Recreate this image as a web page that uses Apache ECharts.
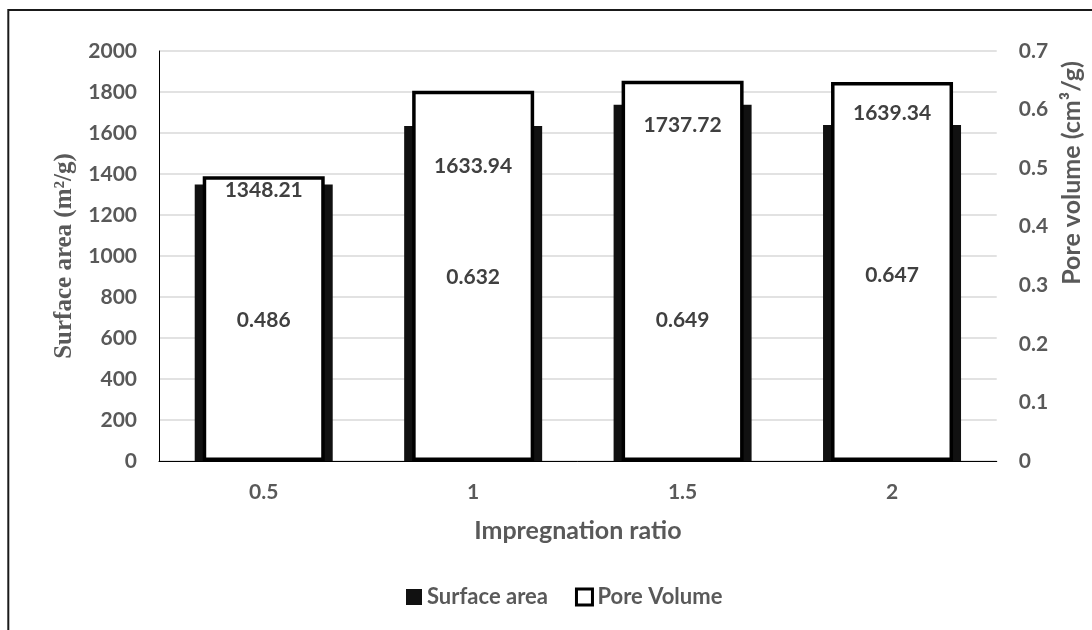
<!DOCTYPE html>
<html>
<head>
<meta charset="utf-8">
<script src="https://cdn.jsdelivr.net/npm/echarts@6/dist/echarts.min.js"></script>
<style>html,body{margin:0;padding:0;background:#fff;}#c{width:1092px;height:630px;}</style>
</head>
<body>
<div id="c"></div>
<script>
// ---- data ----
const categories = ['0.5', '1', '1.5', '2'];
const surfaceArea = [1348.21, 1633.94, 1737.72, 1639.34];
const poreVolume = [0.486, 0.632, 0.649, 0.647];
const leftTicks = { min: 0, max: 2000, interval: 200 };
const rightTicks = { min: 0, max: 0.7, interval: 0.1 };

// label nudges (style only)
const saLabelDy = [6, 40, 20, -12];
const pvLabelLift = [141, 184, 141, 186];

const FONT = 'Lato';
const GRAY = '#595959';
const DARK = '#404040';

const chart = echarts.init(document.getElementById('c'));
chart.setOption({
  animation: false,
  backgroundColor: '#fff',
  grid: { left: 159, right: 82, top: 51, bottom: 169 },
  graphic: [
    { type: 'line', shape: { x1: 8, y1: 10, x2: 1092, y2: 10 }, style: { stroke: '#1a1a1a', lineWidth: 2 } },
    { type: 'line', shape: { x1: 8.3, y1: 9, x2: 8.3, y2: 630 }, style: { stroke: '#1a1a1a', lineWidth: 2 } }
  ],
  legend: {
    bottom: 17,
    left: 401,
    itemWidth: 16,
    itemHeight: 16,
    itemGap: 27,
    textStyle: { color: GRAY, fontFamily: FONT, fontWeight: 'bold', fontSize: 22 },
    data: [
      { name: 'Surface area', icon: 'rect', itemStyle: { color: '#111', borderWidth: 0 } },
      { name: 'Pore Volume', icon: 'rect', itemStyle: { color: '#fff', borderColor: '#000', borderWidth: 3 } }
    ]
  },
  xAxis: [
    {
      type: 'category', data: categories,
      name: 'Impregnation ratio', nameLocation: 'middle', nameGap: 57,
      nameTextStyle: { color: GRAY, fontFamily: FONT, fontWeight: 'bold', fontSize: 25 },
      axisLine: { show: true, lineStyle: { color: '#000', width: 1 } },
      axisTick: { show: false },
      axisLabel: { color: GRAY, fontFamily: FONT, fontWeight: 'bold', fontSize: 21, margin: 21 },
      z: 5
    },
    {
      type: 'category', data: categories, show: false
    }
  ],
  yAxis: [
    {
      type: 'value', min: leftTicks.min, max: leftTicks.max, interval: leftTicks.interval,
      name: 'Surface area (m²/g)', nameLocation: 'middle', nameGap: 80, nameRotate: 90,
      nameTextStyle: { color: GRAY, fontFamily: 'Liberation Serif', fontWeight: 'bold', fontSize: 25 },
      axisLine: { show: true, lineStyle: { color: '#000', width: 1 } },
      axisTick: { show: false },
      axisLabel: { color: GRAY, fontFamily: FONT, fontWeight: 'bold', fontSize: 21, margin: 22,
        formatter: v => String(v) },
      splitLine: { show: true, lineStyle: { color: '#d9d9d9', width: 1.5 } }
    },
    {
      type: 'value', min: rightTicks.min, max: rightTicks.max, interval: rightTicks.interval,
      position: 'right',
      name: 'Pore volume (cm³/g)', nameLocation: 'middle', nameGap: 55, nameRotate: 90,
      nameTextStyle: { color: GRAY, fontFamily: FONT, fontWeight: 'bold', fontSize: 25, padding: [0, 0, 0, 166] },
      axisLine: { show: false },
      axisTick: { show: false },
      axisLabel: { color: GRAY, fontFamily: FONT, fontWeight: 'bold', fontSize: 21, margin: 22,
        formatter: v => String(+v.toFixed(1)) },
      splitLine: { show: false }
    }
  ],
  series: [
    {
      name: 'Surface area', type: 'bar', xAxisIndex: 0, yAxisIndex: 0,
      barWidth: 138,
      itemStyle: { color: '#111' },
      label: {
        show: true, position: ['50%', 0], align: 'center', verticalAlign: 'middle',
        color: DARK, fontFamily: FONT, fontWeight: 'bold', fontSize: 21
      },
      data: surfaceArea.map((v, i) => ({ value: v, label: { offset: [0, saLabelDy[i]] } })),
      z: 2
    },
    {
      name: 'Pore Volume', type: 'bar', xAxisIndex: 1, yAxisIndex: 1,
      barWidth: 122,
      itemStyle: { color: '#fff', borderColor: '#000', borderWidth: 3.5 },
      label: {
        show: true, position: ['50%', '100%'], align: 'center', verticalAlign: 'middle',
        color: DARK, fontFamily: FONT, fontWeight: 'bold', fontSize: 21
      },
      data: poreVolume.map((v, i) => ({ value: v, label: { offset: [0, -pvLabelLift[i]] } })),
      z: 2
    }
  ]
});
</script>
</body>
</html>
